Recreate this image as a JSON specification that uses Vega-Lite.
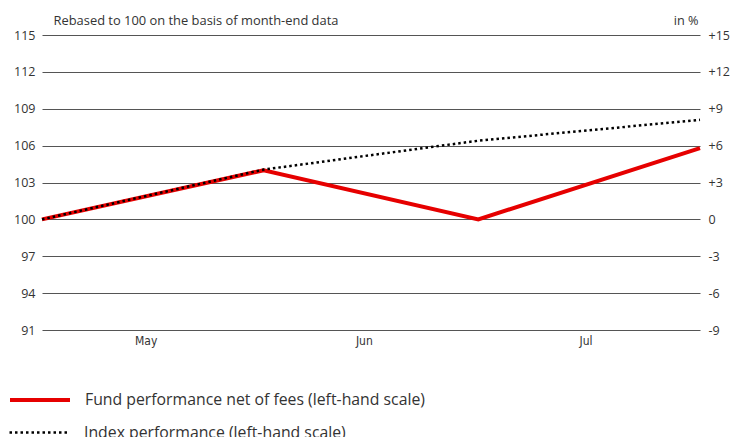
{
  "$schema": "https://vega.github.io/schema/vega-lite/v6.json",
  "width": 658,
  "height": 295,
  "autosize": "none",
  "padding": {"left": 42, "top": 35, "right": 34, "bottom": 107},
  "background": "white",
  "config": {
    "view": {"stroke": null},
    "font": "Open Sans",
    "axis": {"labelFont": "Open Sans", "titleFont": "Open Sans", "labelColor": "#333", "titleColor": "#333", "titleFontWeight": "normal"},
    "legend": {"orient": "none", "direction": "vertical", "title": null, "padding": 0, "symbolType": "stroke", "symbolSize": 3600, "labelFontSize": 15.8, "labelFont": "Open Sans", "labelColor": "#333", "labelOffset": 13, "labelLimit": 600}
  },
  "data": {
    "values": [
      {"date": "2024-04-30T00:00:00", "series": "Fund performance net of fees (left-hand scale)", "value": 100},
      {"date": "2024-05-31T00:00:00", "series": "Fund performance net of fees (left-hand scale)", "value": 104.0},
      {"date": "2024-06-30T00:00:00", "series": "Fund performance net of fees (left-hand scale)", "value": 100.0},
      {"date": "2024-07-31T00:00:00", "series": "Fund performance net of fees (left-hand scale)", "value": 105.8},
      {"date": "2024-04-30T00:00:00", "series": "Index performance (left-hand scale)", "value": 100},
      {"date": "2024-05-31T00:00:00", "series": "Index performance (left-hand scale)", "value": 104.05},
      {"date": "2024-06-30T00:00:00", "series": "Index performance (left-hand scale)", "value": 106.4},
      {"date": "2024-07-31T00:00:00", "series": "Index performance (left-hand scale)", "value": 108.1}
    ]
  },
  "encoding": {
    "x": {
      "field": "date",
      "type": "temporal",
      "scale": {"domain": [{"year": 2024, "month": 4, "date": 30}, {"year": 2024, "month": 7, "date": 31}]},
      "axis": {
        "title": null,
        "values": [{"year": 2024, "month": 5, "date": 14, "hours": 12}, {"year": 2024, "month": 6, "date": 14}, {"year": 2024, "month": 7, "date": 15}],
        "format": "%b",
        "grid": false,
        "domain": false,
        "ticks": false,
        "labelPadding": 5,
        "labelFontSize": 12,
        "labelFont": "Liberation Sans Narrow, DejaVu Sans Condensed, sans-serif"
      }
    }
  },
  "layer": [
    {
      "transform": [{"filter": "datum.series === 'Fund performance net of fees (left-hand scale)'"}],
      "mark": {"type": "line", "strokeWidth": 4},
      "encoding": {
        "color": {
          "field": "series",
          "type": "nominal",
          "scale": {"range": ["#e60000"]},
          "legend": {"legendX": -34, "legendY": 333, "symbolStrokeWidth": 4}
        },
        "y": {
          "field": "value",
          "type": "quantitative",
          "scale": {"domain": [91, 115], "nice": false, "zero": false},
          "axis": {
            "title": "Rebased to 100 on the basis of month-end data",
            "titleAngle": 0,
            "titleAlign": "left",
            "titleBaseline": "alphabetic",
            "titleX": 11,
            "titleY": -11,
            "titleFontSize": 12.9,
            "values": [91, 94, 97, 100, 103, 106, 109, 112, 115],
            "grid": true,
            "gridColor": "#555",
            "gridWidth": 1.2,
            "domain": false,
            "ticks": false,
            "labelPadding": 7,
            "labelFontSize": 12.5
          }
        }
      }
    },
    {
      "transform": [{"filter": "datum.series === 'Index performance (left-hand scale)'"}],
      "mark": {"type": "line", "strokeWidth": 2.5, "color": "#000000"},
      "encoding": {
        "strokeDash": {
          "field": "series",
          "type": "nominal",
          "scale": {"range": [[2.5, 3]]},
          "legend": {"legendX": -34, "legendY": 366, "symbolStrokeWidth": 2.5, "symbolStrokeColor": "#000000"}
        },
        "y": {
          "field": "value",
          "type": "quantitative",
          "scale": {"domain": [91, 115], "nice": false, "zero": false},
          "axis": {
            "orient": "right",
            "title": "in %",
            "titleAngle": 0,
            "titleAlign": "right",
            "titleBaseline": "alphabetic",
            "titleX": -2,
            "titleY": -11,
            "titleFontSize": 12.7,
            "values": [91, 94, 97, 100, 103, 106, 109, 112, 115],
            "labelExpr": "datum.value > 100 ? '+' + (datum.value - 100) : '' + (datum.value - 100)",
            "grid": false,
            "domain": false,
            "ticks": false,
            "labelPadding": 8,
            "labelFontSize": 12.5
          }
        }
      }
    }
  ],
  "resolve": {"scale": {"y": "independent"}}
}
